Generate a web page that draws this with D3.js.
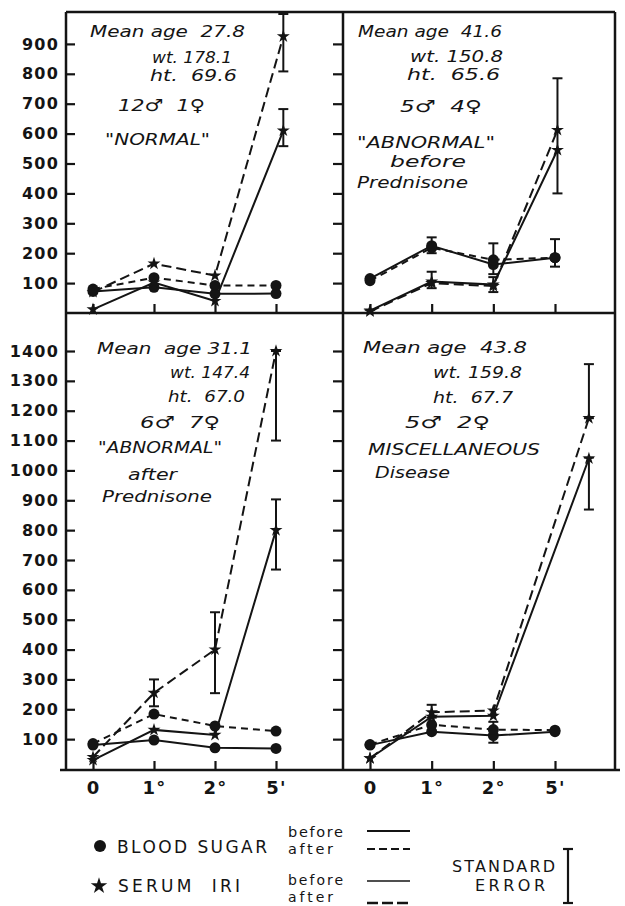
<!DOCTYPE html>
<html>
<head>
<meta charset="utf-8">
<script src="https://cdn.jsdelivr.net/npm/d3@7"></script>
<style>
body { margin: 0; background: #fff; }
svg { display: block; }
</style>
</head>
<body>
<svg id="chart" width="625" height="906"></svg>
<script>
// time points and tick labels
var xLabels = ['0', '1\u00b0', '2\u00b0', "5'"];
var yTicksTop = [100, 200, 300, 400, 500, 600, 700, 800, 900];
var yTicksBottom = [100, 200, 300, 400, 500, 600, 700, 800, 900, 1000, 1100, 1200, 1300, 1400];

// panels: NORMAL, ABNORMAL before, ABNORMAL after, MISCELLANEOUS
var bsBefore = [
  [72, 86, 64, 65],
  [115, 225, 162, 185],
  [80, 97, 71, 69],
  [80, 125, 112, 125]
];
var bsAfter = [
  [80, 118, 92, 92],
  [108, 218, 178, 185],
  [85, 184, 144, 127],
  [82, 148, 132, 130]
];
var iriBefore = [
  [12, 102, 40, 610],
  [8, 105, 95, 545],
  [30, 131, 114, 800],
  [36, 175, 178, 1040]
];
var iriAfter = [
  [70, 165, 125, 925],
  [5, 100, 90, 612],
  [40, 255, 400, 1400],
  [36, 190, 196, 1175]
];
// x position of each IRI point (the 5' value is plotted to the right of the tick in some panels)
var iriX = [
  [0, 1, 2, 3.12],
  [0, 1, 2, 3.04],
  [0, 1, 2, 3],
  [0, 1, 2, 3.55]
];
// standard error bars: panel, x, low, high
var errBars = [
  [0, 3.12, 808, 1000], [0, 3.12, 558, 682],
  [1, 1, 200, 253], [1, 2, 130, 233], [1, 3, 155, 247],
  [1, 1, 83, 138], [1, 2, 70, 120], [1, 3.04, 400, 785],
  [2, 1, 210, 300], [2, 2, 254, 525], [2, 3, 1100, 1400], [2, 3, 668, 903],
  [3, 1, 172, 215], [3, 2, 88, 158], [3, 3.55, 1175, 1356], [3, 3.55, 869, 1043]
];

var notes = [
  ['Mean age  27.8', 'wt. 178.1', 'ht.  69.6', '12\u2642  1\u2640', '"NORMAL"'],
  ['Mean age  41.6', 'wt. 150.8', 'ht.  65.6', '5\u2642  4\u2640', '"ABNORMAL"', 'before', 'Prednisone'],
  ['Mean  age 31.1', 'wt. 147.4', 'ht.  67.0', '6\u2642  7\u2640', '"ABNORMAL"', 'after', 'Prednisone'],
  ['Mean age  43.8', 'wt. 159.8', 'ht.  67.7', '5\u2642  2\u2640', 'MISCELLANEOUS', 'Disease']
];
// x, baseline, width for each note line
var noteLayout = [
  [[90, 37, 155], [152, 63, 80], [150, 81, 87], [118, 111, 87], [105, 145, 105]],
  [[358, 37, 144], [410, 62, 93], [407, 80, 93], [400, 112, 82], [357, 148, 138], [390, 167, 76], [357, 188, 111]],
  [[97, 354, 155], [170, 378, 80], [168, 402, 77], [140, 428, 80], [98, 453, 124], [128, 480, 49], [102, 502, 110]],
  [[363, 353, 164], [433, 378, 89], [433, 403, 80], [405, 428, 85], [368, 455, 172], [375, 478, 75]]
];

var ink = '#141414';
var svg = d3.select('#chart');

var xLeft = d3.scaleLinear().domain([0, 3]).range([93, 276]);
var xRight = d3.scaleLinear().domain([0, 3]).range([370, 555]);
var yTop = d3.scaleLinear().domain([0, 1000]).range([313, 14]);
var yBottom = d3.scaleLinear().domain([0, 1400]).range([769, 351]);

var panels = [
  {x: xLeft, y: yTop},
  {x: xRight, y: yTop},
  {x: xLeft, y: yBottom},
  {x: xRight, y: yBottom}
];

// frame
var frame = [
  [66, 12, 615, 12], [66, 313, 615, 313], [60, 770, 620, 770],
  [66, 12, 66, 770], [343, 12, 343, 770], [615, 12, 615, 770]
];
svg.selectAll('.frame')
  .data(frame)
  .enter()
  .append('line')
  .attr('class', 'frame')
  .attr('x1', function (d) { return d[0]; })
  .attr('y1', function (d) { return d[1]; })
  .attr('x2', function (d) { return d[2]; })
  .attr('y2', function (d) { return d[3]; })
  .attr('stroke', ink)
  .attr('stroke-width', 2.5);

// axes
var styleAxis = function (g, size) {
  g.select('.domain').remove();
  g.selectAll('.tick line').attr('stroke', ink).attr('stroke-width', 2.2);
  g.selectAll('.tick text')
    .attr('fill', ink)
    .style('font-family', '"DejaVu Sans", sans-serif')
    .style('font-weight', 'bold')
    .style('font-size', size + 'px')
    .style('letter-spacing', '1.2px');
};
var plain = function (d) { return String(d); };

svg.append('g').attr('transform', 'translate(65,0)')
  .call(d3.axisLeft(yTop).tickValues(yTicksTop).tickSize(-10).tickPadding(6).tickFormat(plain))
  .call(styleAxis, 16);
svg.append('g').attr('transform', 'translate(65,0)')
  .call(d3.axisLeft(yBottom).tickValues(yTicksBottom).tickSize(-10).tickPadding(6).tickFormat(plain))
  .call(styleAxis, 16);
svg.append('g').attr('transform', 'translate(343,0)')
  .call(d3.axisLeft(yTop).tickValues(yTicksTop).tickSize(10).tickFormat(''))
  .call(styleAxis, 16);
svg.append('g').attr('transform', 'translate(343,0)')
  .call(d3.axisLeft(yBottom).tickValues(yTicksBottom).tickSize(10).tickFormat(''))
  .call(styleAxis, 16);

panels.forEach(function (p, k) {
  var yPos = k < 2 ? 313 : 770;
  var ax = d3.axisBottom(p.x).tickValues([0, 1, 2, 3]).tickSize(-9).tickPadding(11)
    .tickFormat(function (i) { return k < 2 ? '' : xLabels[i]; });
  svg.append('g').attr('transform', 'translate(0,' + yPos + ')')
    .call(ax)
    .call(styleAxis, 18);
});

// series
var star = d3.symbol().type(d3.symbolStar).size(52);
var series = [
  {vals: bsBefore, dash: null, mark: 'circle'},
  {vals: bsAfter, dash: '7,5', mark: 'circle'},
  {vals: iriBefore, dash: null, mark: 'star'},
  {vals: iriAfter, dash: '10,5', mark: 'star'}
];

panels.forEach(function (p, k) {
  var g = svg.append('g').attr('class', 'panel');
  series.forEach(function (s) {
    var xs = s.mark === 'star' ? iriX[k] : [0, 1, 2, 3];
    var line = d3.line()
      .x(function (d, i) { return p.x(xs[i]); })
      .y(function (d) { return p.y(d); });
    g.append('path')
      .datum(s.vals[k])
      .attr('d', line)
      .attr('fill', 'none')
      .attr('stroke', ink)
      .attr('stroke-width', 2)
      .attr('stroke-dasharray', s.dash);
  });

  // error bars
  var bars = errBars.filter(function (b) { return b[0] === k; });
  var eb = g.selectAll('.err').data(bars).enter().append('g').attr('class', 'err');
  eb.append('line')
    .attr('x1', function (b) { return p.x(b[1]); })
    .attr('x2', function (b) { return p.x(b[1]); })
    .attr('y1', function (b) { return p.y(b[2]); })
    .attr('y2', function (b) { return p.y(b[3]); });
  eb.append('line')
    .attr('x1', function (b) { return p.x(b[1]) - 5; })
    .attr('x2', function (b) { return p.x(b[1]) + 5; })
    .attr('y1', function (b) { return p.y(b[2]); })
    .attr('y2', function (b) { return p.y(b[2]); });
  eb.append('line')
    .attr('x1', function (b) { return p.x(b[1]) - 5; })
    .attr('x2', function (b) { return p.x(b[1]) + 5; })
    .attr('y1', function (b) { return p.y(b[3]); })
    .attr('y2', function (b) { return p.y(b[3]); });
  eb.selectAll('line').attr('stroke', ink).attr('stroke-width', 2);

  // markers
  series.forEach(function (s) {
    var xs = s.mark === 'star' ? iriX[k] : [0, 1, 2, 3];
    if (s.mark === 'circle') {
      g.selectAll(null).data(s.vals[k]).enter().append('circle')
        .attr('cx', function (d, i) { return p.x(xs[i]); })
        .attr('cy', function (d) { return p.y(d); })
        .attr('r', 5.5)
        .attr('fill', ink);
    } else {
      g.selectAll(null).data(s.vals[k]).enter().append('path')
        .attr('d', star)
        .attr('transform', function (d, i) { return 'translate(' + p.x(xs[i]) + ',' + p.y(d) + ')'; })
        .attr('fill', ink);
    }
  });

  // panel notes
  g.selectAll('.note').data(notes[k]).enter().append('text')
    .attr('class', 'note')
    .attr('x', function (d, i) { return noteLayout[k][i][0]; })
    .attr('y', function (d, i) { return noteLayout[k][i][1]; })
    .attr('textLength', function (d, i) { return noteLayout[k][i][2]; })
    .attr('lengthAdjust', 'spacingAndGlyphs')
    .style('white-space', 'pre')
    .style('font-family', '"DejaVu Sans", sans-serif')
    .style('font-style', 'italic')
    .style('font-size', '16.5px')
    .attr('fill', ink)
    .text(function (d) { return d; });
});

// legend
var lg = svg.append('g').attr('class', 'legend');
lg.append('circle').attr('cx', 100).attr('cy', 846).attr('r', 6).attr('fill', ink);
lg.append('path').attr('d', d3.symbol().type(d3.symbolStar).size(85))
  .attr('transform', 'translate(99,886)').attr('fill', ink);

var legendText = [
  ['BLOOD SUGAR', 117, 853, 150, 17],
  ['SERUM  IRI', 118, 892, 122, 17],
  ['before', 288, 837, 55, 14.5],
  ['after', 288, 854, 45, 14.5],
  ['before', 288, 885, 55, 14],
  ['after', 288, 902, 45, 14],
  ['STANDARD', 452, 872, 103, 16],
  ['ERROR', 475, 891, 70, 16]
];
lg.selectAll('text').data(legendText).enter().append('text')
  .attr('x', function (d) { return d[1]; })
  .attr('y', function (d) { return d[2]; })
  .attr('textLength', function (d) { return d[3]; })
  .attr('lengthAdjust', 'spacing')
  .style('white-space', 'pre')
  .style('font-family', '"DejaVu Sans", sans-serif')
  .style('font-size', function (d) { return d[4] + 'px'; })
  .attr('fill', ink)
  .text(function (d) { return d[0]; });

var legendLines = [
  [831, null, 2], [849, '8,4', 2], [881, null, 1.6], [903, '11,4', 2.4]
];
lg.selectAll('.lline').data(legendLines).enter().append('line')
  .attr('class', 'lline')
  .attr('x1', 367).attr('x2', 410)
  .attr('y1', function (d) { return d[0]; })
  .attr('y2', function (d) { return d[0]; })
  .attr('stroke', ink)
  .attr('stroke-width', function (d) { return d[2]; })
  .attr('stroke-dasharray', function (d) { return d[1]; });

// standard error key
lg.append('line').attr('x1', 568).attr('x2', 568).attr('y1', 849).attr('y2', 903);
lg.append('line').attr('x1', 563).attr('x2', 573).attr('y1', 849).attr('y2', 849);
lg.append('line').attr('x1', 563).attr('x2', 573).attr('y1', 903).attr('y2', 903);
lg.selectAll('line:not(.lline)').attr('stroke', ink).attr('stroke-width', 2.2);
</script>
</body>
</html>
